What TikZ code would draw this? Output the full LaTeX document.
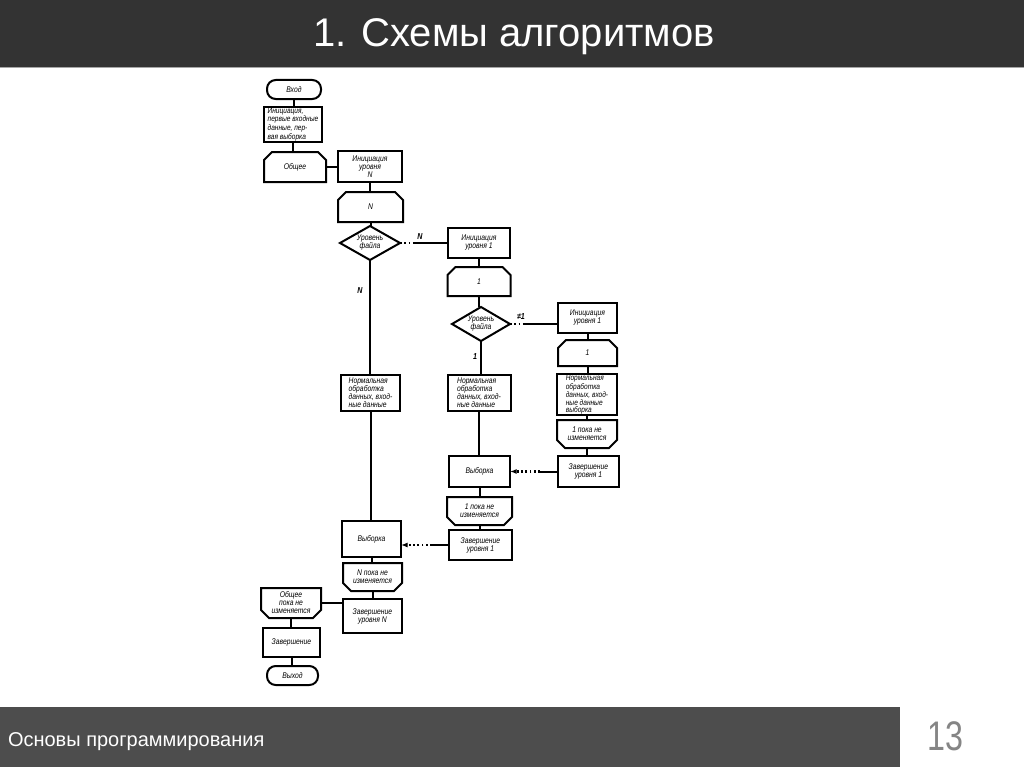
\documentclass[tikz,border=0pt]{standalone}
\usepackage{fontspec}
\setmainfont{Liberation Sans}
\newfontfamily\boxfont[FakeStretch=0.82]{Liberation Sans}
\usetikzlibrary{arrows.meta}
\definecolor{hdr}{HTML}{333333}
\definecolor{ftr}{HTML}{4D4D4D}
\definecolor{pgnum}{HTML}{858585}
\newcommand\outlinediamond[1]{\draw[shp] (#1.north) -- (#1.east) -- (#1.south) -- (#1.west) -- cycle;}
\newcommand\outlinetop[1]{\draw[shp] ([xshift=6pt]#1.north west) -- ([xshift=-6pt]#1.north east) -- ([yshift=-6pt]#1.north east) -- (#1.south east) -- (#1.south west) -- ([yshift=-6pt]#1.north west) -- cycle;}
\newcommand\outlinebot[1]{\draw[shp] (#1.north west) -- (#1.north east) -- ([yshift=6pt]#1.south east) -- ([xshift=-6pt]#1.south east) -- ([xshift=6pt]#1.south west) -- ([yshift=6pt]#1.south west) -- cycle;}
\begin{document}
\begin{tikzpicture}[x=0.75pt,y=-0.75pt,
  every node/.style={inner sep=0pt, outer sep=0pt},
  fc/.style={font=\boxfont\itshape\fontsize{6.2}{6.0}\selectfont},
  shp/.style={line width=1.5pt, line join=miter},
  proc/.style={draw, shp, fc, align=center},
  procl/.style={draw, shp, fc, align=left, inner xsep=1.8pt},
  tight/.style={font=\boxfont\itshape\fontsize{6}{5.5}\selectfont},
  term/.style={draw, shp, rounded corners=6.5pt, fc},
  bare/.style={fc, align=center},
  sz/.style 2 args={minimum width=#1*0.75pt, minimum height=#2*0.75pt},
  conn/.style={line width=1.5pt},
  dots/.style={line width=1.7pt, dash pattern=on 1.3pt off 1.9pt},
  arr/.style={-{Latex[length=5pt,width=3.8pt]}},
  lbl/.style={font=\boxfont\itshape\bfseries\fontsize{6.5}{6.5}\selectfont}
]
\useasboundingbox (0,0) rectangle (1024,767);
\fill[white] (0,0) rectangle (1024,767);
% header and footer
\fill[hdr] (0,0) rectangle (1024,67);
\draw[gray!70, line width=0.8pt] (0,67.5) -- (1024,67.5);
\node[text=white, anchor=base, font=\fontsize{30}{31}\selectfont] (title) at (514,47) {1. Схемы алгоритмов};
\fill[ftr] (0,707) rectangle (900,767);
\node[text=white, anchor=base west, font=\fontsize{15}{15}\selectfont] (foot) at (8,746) {Основы программирования};
\node[text=pgnum, anchor=base, font=\fontsize{31}{31}\selectfont] (pg) at (945.5,750) {\scalebox{0.78}[1]{13}};

% column A
\node[term, sz={54}{19}] (in) at (294,89.5) {Вход};
\node[procl, tight, sz={58}{35}] (init0) at (293,124.5) {Инициация,\\первые входные\\данные, пер-\\вая выборка};
\node[bare, sz={62}{30}] (all) at (295,167) {Общее};
\node[bare, sz={60}{30}] (allend) at (291,603) {Общее\\пока не\\изменяется};
\node[proc, sz={57}{29}] (fin) at (291.5,642.5) {Завершение};
\node[term, sz={51}{19}] (out) at (292.5,675.5) {Выход};

% column B
\node[proc, sz={64}{31}] (initN) at (370,166.5) {Инициация\\уровня\\N};
\node[bare, sz={65}{30}] (stN) at (370.5,207) {N};
\node[bare, sz={60}{34}] (d1) at (370,243) {Уровень\\файла};
\node[procl, sz={59}{36}] (normN) at (370.5,393) {Нормальная\\обработка\\данных, вход-\\ные данные};
\node[proc, sz={59}{36}] (selN) at (371.5,539) {Выборка};
\node[bare, sz={59}{28}] (endN) at (372.5,577) {N пока не\\изменяется};
\node[proc, sz={59}{34}] (zavN) at (372.5,616) {Завершение\\уровня N};

% column C
\node[proc, sz={62}{30}] (init1) at (479,243) {Инициация\\уровня 1};
\node[bare, sz={63}{29}] (st1) at (479,281.5) {1};
\node[bare, sz={58}{34}] (d2) at (481,324) {Уровень\\файла};
\node[procl, sz={63}{36}] (norm1) at (479,393) {Нормальная\\обработка\\данных, вход-\\ные данные};
\node[proc, sz={61}{31}] (sel1) at (479.5,471.5) {Выборка};
\node[bare, sz={65}{28}] (end1) at (479.5,511) {1 пока не\\изменяется};
\node[proc, sz={63}{30}] (zav1) at (480.5,545) {Завершение\\уровня 1};

% column D
\node[proc, sz={59}{30}] (init1r) at (587.5,318) {Инициация\\уровня 1};
\node[bare, sz={59}{26}] (st1r) at (587.5,353) {1};
\node[procl, tight, sz={60}{41}] (norm1r) at (587,394.5) {Нормальная\\обработка\\данных, вход-\\ные данные\\выборка};
\node[bare, sz={60}{28}] (end1r) at (587,434) {1 пока не\\изменяется};
\node[proc, sz={61}{31}] (zav1r) at (588.5,471.5) {Завершение\\уровня 1};

% outlines of special shapes
\outlinetop{all}
\outlinetop{stN}
\outlinetop{st1}
\outlinetop{st1r}
\outlinediamond{d1}
\outlinediamond{d2}
\outlinebot{allend}
\outlinebot{endN}
\outlinebot{end1}
\outlinebot{end1r}

% connectors column A
\draw[conn] (in.south) -- (in.south |- init0.north);
\draw[conn] (init0.south) -- (init0.south |- all.north);
\draw[conn] (allend.south) -- (allend.south |- fin.north);
\draw[conn] (fin.south) -- (fin.south |- out.north);
\draw[conn] (all.east) -- (all.east -| initN.west);
\draw[conn] (allend.east) -- (allend.east -| zavN.west);
% column B
\draw[conn] (initN.south) -- (initN.south |- stN.north);
\draw[conn] (stN.south) -- (stN.south |- d1.north);
\draw[conn] (d1.south) -- (d1.south |- normN.north);
\draw[conn] (normN.south) -- (normN.south |- selN.north);
\draw[conn] (selN.south) -- (selN.south |- endN.north);
\draw[conn] (endN.south) -- (endN.south |- zavN.north);
% column C
\draw[conn] (init1.south) -- (init1.south |- st1.north);
\draw[conn] (st1.south) -- (st1.south |- d2.north);
\draw[conn] (d2.south) -- (d2.south |- norm1.north);
\draw[conn] (norm1.south) -- (norm1.south |- sel1.north);
\draw[conn] (sel1.south) -- (sel1.south |- end1.north);
\draw[conn] (end1.south) -- (end1.south |- zav1.north);
% column D
\draw[conn] (init1r.south) -- (init1r.south |- st1r.north);
\draw[conn] (st1r.south) -- (st1r.south |- norm1r.north);
\draw[conn] (norm1r.south) -- (norm1r.south |- end1r.north);
\draw[conn] (end1r.south) -- (end1r.south |- zav1r.north);

% branches
\draw[dots] (d1.east) -- ++(14,0) coordinate (b1);
\draw[conn] (b1) -- (b1 -| init1.west);
\draw[dots] (d2.east) -- ++(14,0) coordinate (b2);
\draw[conn] (b2) -- (b2 -| init1r.west);
\draw[conn] (zav1r.west) -- ++(-18,0) coordinate (r1);
\draw[dots, arr] (r1) -- (r1 -| sel1.east);
\draw[conn] (zav1.west) -- ++(-17,0) coordinate (r2);
\draw[dots, arr] (r2) -- (r2 -| selN.east);

% labels
\node[lbl] (lN1) at (420,237) {N};
\node[lbl] (lN2) at (360,291) {N};
\node[lbl] (lne) at (521,317) {≠1};
\node[lbl] (l1) at (475,357) {1};
\end{tikzpicture}
\end{document}
